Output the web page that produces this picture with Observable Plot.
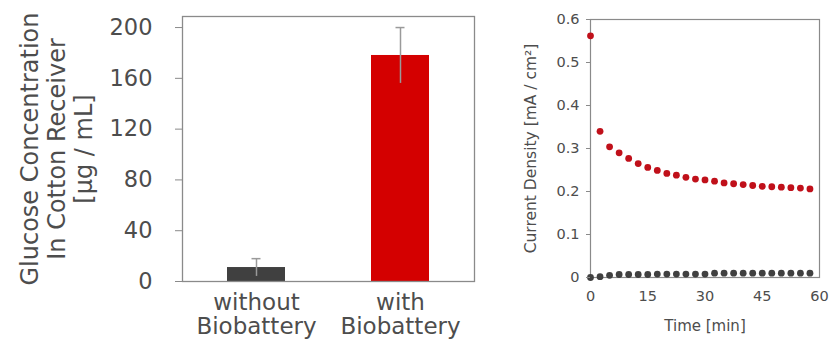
<!DOCTYPE html>
<html>
<head>
<meta charset="utf-8">
<script src="https://cdn.jsdelivr.net/npm/d3@7"></script>
<script src="https://cdn.jsdelivr.net/npm/@observablehq/plot@0.6"></script>
<style>
  html, body { margin: 0; padding: 0; background: #fff; }
  #wrap { position: relative; width: 832px; height: 344px; overflow: hidden; }
  #left { position: absolute; left: 0; top: 0; }
  #right { position: absolute; left: 490px; top: 0; }
</style>
</head>
<body>
<div id="wrap"><div id="left"></div><div id="right"></div></div>
<script>
// ---- Left panel: glucose concentration bars ----
const barCategories = ["without\nBiobattery", "with\nBiobattery"];
const barValues = [11, 178];
const barErrors = [7, 22];
const barColors = ["#404040", "#d40000"];
const leftYTicks = [0, 40, 80, 120, 160, 200];
const leftYLabel = "Glucose Concentration\nIn Cotton Receiver\n[µg / mL]";

// ---- Right panel: current density over time ----
const timeMin = [0, 2.5, 5, 7.5, 10, 12.5, 15, 17.5, 20, 22.5, 25, 27.5, 30, 32.5, 35, 37.5, 40, 42.5, 45, 47.5, 50, 52.5, 55, 57.5];
const withBattery = [0.562, 0.340, 0.304, 0.290, 0.277, 0.265, 0.256, 0.249, 0.242, 0.238, 0.233, 0.229, 0.227, 0.224, 0.220, 0.218, 0.216, 0.214, 0.212, 0.211, 0.210, 0.209, 0.208, 0.206];
const withoutBattery = [0.000, 0.002, 0.005, 0.007, 0.007, 0.007, 0.007, 0.008, 0.008, 0.008, 0.008, 0.008, 0.008, 0.010, 0.010, 0.010, 0.010, 0.010, 0.010, 0.010, 0.010, 0.010, 0.010, 0.010];
const seriesColors = ["#404040", "#c0101a"];
const rightXTicks = [0, 15, 30, 45, 60];
const rightYTicks = [0, 0.1, 0.2, 0.3, 0.4, 0.5, 0.6];
const rightXLabel = "Time [min]";
const rightYLabel = "Current Density [mA / cm²]";

const bars = barCategories.map((c, i) => ({
  cat: c, value: barValues[i], lo: barValues[i] - barErrors[i], hi: barValues[i] + barErrors[i], color: barColors[i]
}));

const textColor = "#4d4d4d";

const left = Plot.plot({
  width: 490, height: 344,
  marginLeft: 182, marginRight: 16, marginTop: 16, marginBottom: 63,
  style: { fontFamily: "DejaVu Sans", background: "#fff", color: textColor },
  x: { domain: barCategories, paddingInner: 0.6, paddingOuter: 0.307, axis: null },
  y: { domain: [0, 208.7], axis: null },
  marks: [
    Plot.barY(bars, { x: "cat", y: "value", fill: "color" }),
    Plot.ruleX(bars, { x: "cat", y1: "lo", y2: "hi", stroke: "#9a9a9a", strokeWidth: 1.5 }),
    Plot.tickY(bars, { x: "cat", y: "hi", stroke: "#9a9a9a", strokeWidth: 1.5, insetLeft: 24.5, insetRight: 24.5 }),
    Plot.frame({ stroke: "#8a8a8a", strokeWidth: 1.3 }),
    Plot.axisY({ ticks: leftYTicks, tickSize: 7, tickPadding: 23, fontSize: 22.5, stroke: "#8a8a8a", fill: textColor, label: null }),
    Plot.axisX({ tickSize: 0, tickPadding: 11, fontSize: 23, lineHeight: 1.06, fill: textColor, label: null }),
    Plot.text([leftYLabel], { frameAnchor: "left", rotate: -90, dx: -126, textAnchor: "middle", lineAnchor: "middle", fontSize: 24, lineHeight: 1.12, fill: textColor })
  ]
});
document.getElementById("left").append(left);

const points = [];
timeMin.forEach((t, i) => {
  points.push({ t, v: withoutBattery[i], s: "without" });
  points.push({ t, v: withBattery[i], s: "with" });
});

const right = Plot.plot({
  width: 342, height: 344,
  marginLeft: 100, marginRight: 13, marginTop: 19, marginBottom: 67,
  style: { fontFamily: "DejaVu Sans", background: "#fff", color: textColor },
  x: { domain: [0, 60], axis: null },
  y: { domain: [0, 0.6], axis: null },
  color: { domain: ["without", "with"], range: seriesColors },
  marks: [
    Plot.frame({ stroke: "#8a8a8a", strokeWidth: 1.2 }),
    Plot.dot(points, { x: "t", y: "v", fill: "s", r: 3.4, stroke: "none" }),
    Plot.axisY({ ticks: rightYTicks, tickSize: 4, tickPadding: 7, fontSize: 14.5, stroke: "#8a8a8a", fill: textColor, tickFormat: d => String(+d.toFixed(1)), label: null }),
    Plot.axisX({ ticks: rightXTicks, tickSize: 0, tickPadding: 13, fontSize: 14.5, fill: textColor, label: null }),
    Plot.text([rightXLabel], { frameAnchor: "bottom", dy: 43, lineAnchor: "top", fontSize: 15, fill: textColor }),
    Plot.text([rightYLabel], { frameAnchor: "left", rotate: -90, dx: -59, textAnchor: "middle", lineAnchor: "middle", fontSize: 15.5, fill: textColor })
  ]
});
document.getElementById("right").append(right);
</script>
</body>
</html>
